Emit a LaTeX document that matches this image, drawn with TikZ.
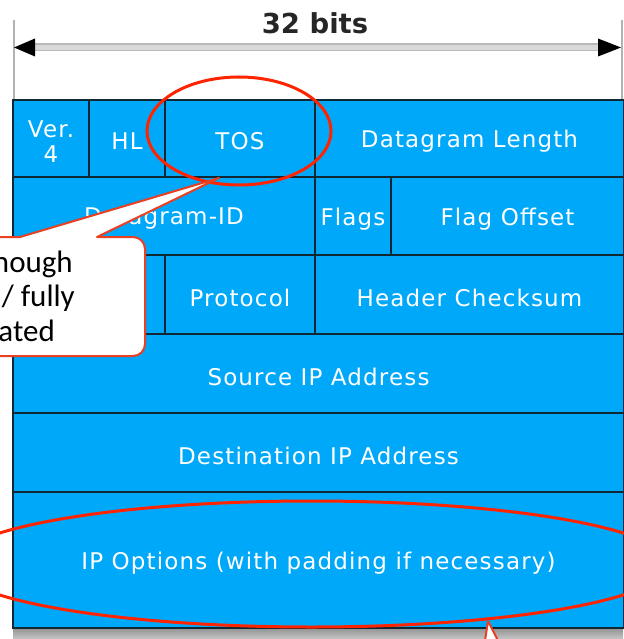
\documentclass[tikz,border=0pt]{standalone}
\usepackage{fontspec}
\setmainfont{Carlito}
\newfontfamily\cellfont[LetterSpace=5]{DejaVu Sans}
\newfontfamily\dimfont{DejaVu Sans}
\usetikzlibrary{calc,shapes.geometric}

\definecolor{ipblue}{RGB}{0,168,250}
\definecolor{cellline}{RGB}{16,40,52}
\definecolor{markred}{RGB}{255,36,0}
\definecolor{boxred}{RGB}{232,64,32}

\tikzset{
  cellbox/.style={fill=ipblue, draw=cellline, line width=2pt},
  celltext/.style={font=\cellfont\fontsize{23}{25}\selectfont, text=white,
                   align=center, inner sep=0pt},
  hilite/.style={draw=markred, line width=3pt, ellipse, inner sep=0pt},
  calloutline/.style={draw=boxred, line width=2pt, fill=white, line join=round},
  callouttext/.style={font=\fontsize{31}{35}\selectfont, inner sep=0pt, anchor=base east},
  dimline/.style={draw=gray!60, line width=2pt},
  dimshaft/.style={draw=gray!55, double=gray!30, double distance=5pt, line width=1.5pt},
}

% one header field: name, corners, label
\newcommand{\ipcell}[6]{%
  \path[cellbox] (#2,#3) rectangle (#4,#5);
  \node[celltext] (#1) at ($(#2,#3)!0.5!(#4,#5)+(0,3)$) {#6};
}

\begin{document}
\begin{tikzpicture}[x=1pt, y=-1pt]
\useasboundingbox (0,0) rectangle (623,639);

% width dimension
\coordinate (dimL) at (14,47.5);
\coordinate (dimR) at (621,47.5);
\coordinate (extLtop) at (13.5,20);
\coordinate (extLbot) at (13.5,100);
\coordinate (extRtop) at (622,20);
\coordinate (extRbot) at (622,100);
\draw[dimline] (extLtop) -- (extLbot);
\draw[dimline] (extRtop) -- (extRbot);
\draw[dimshaft] ($(dimL)+(10,0)$) -- ($(dimR)+(-10,0)$);
\fill[black] (dimL) -- ++(21,-9) -- ++(0,18) -- cycle;
\fill[black] (dimR) -- ++(-23,-9) -- ++(0,18) -- cycle;
\node[font=\dimfont\bfseries\fontsize{27.5}{30}\selectfont, text=black!85, inner sep=0pt]
  (width) at (315,23) {32 bits};

% shadow under the table
\shade[top color=gray!85, bottom color=gray!45] (13,628) rectangle (623,639);

% header fields
\ipcell{ver}{13}{100}{89}{177}{Ver.\\4}
\ipcell{hl}{89}{100}{165}{177}{HL}
\ipcell{tos}{165}{100}{315}{177}{TOS}
\ipcell{len}{315}{100}{624}{177}{Datagram Length}

\ipcell{ident}{13}{177}{315}{255}{Datagram-ID}
\ipcell{flags}{315}{177}{391}{255}{Flags}
\ipcell{fragoff}{391}{177}{624}{255}{Flag Offset}

\ipcell{ttl}{13}{255}{165}{334}{}
\ipcell{proto}{165}{255}{315}{334}{Protocol}
\ipcell{chk}{315}{255}{624}{334}{Header Checksum}

\ipcell{src}{13}{334}{624}{413}{Source IP Address}
\ipcell{dst}{13}{413}{624}{492}{Destination IP Address}
\ipcell{opts}{13}{492}{624}{628}{IP Options (with padding if necessary)}

% highlight rings
\node[hilite, minimum width=184pt, minimum height=108pt] (tosring) at (239,131) {};
\node[hilite, minimum width=716pt, minimum height=126pt] (optring) at (311.5,564) {};

% callout on the TOS field
\coordinate (calltip) at (219,178);
\draw[calloutline] (-60,237) -- (20,237) -- (calltip) -- (97,237) -- (133,237)
  arc[start angle=-90, end angle=0, radius=12] -- (145,344)
  arc[start angle=0, end angle=90, radius=12] -- (-60,356) -- cycle;
\node[callouttext] (noteA) at (73,272) {nough};
\node[callouttext] (noteB) at (75,306) {/ fully};
\node[callouttext] (noteC) at (55,341) {ated};

% pointer of the callout on the options field
\coordinate (lowtip) at (488,621);
\draw[calloutline] (482,660) -- (lowtip) -- (508,660);
\end{tikzpicture}
\end{document}
